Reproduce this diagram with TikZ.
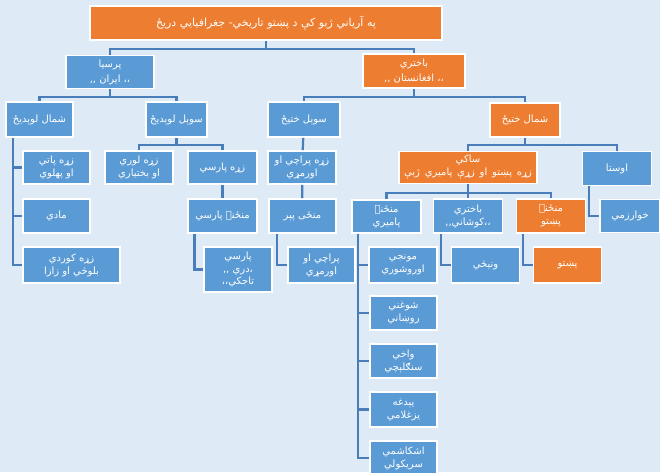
\documentclass[tikz,border=0pt]{standalone}
\usepackage{fontspec}
\newfontfamily\arabicfont[Script=Arabic]{DejaVu Sans}
\TeXXeTstate=1
\definecolor{treeBg}{HTML}{DEEAF6}
\definecolor{treeBlue}{HTML}{5B9BD5}
\definecolor{treeOrange}{HTML}{ED7D31}
\definecolor{treeLine}{HTML}{4A7EBB}
\newcommand{\rl}[1]{\beginR #1\endR}

\begin{document}
\begin{tikzpicture}[x=1pt, y=-1pt,
    bluebox/.style={draw=white, line width=1.6pt, fill=treeBlue, text=white, align=center, inner sep=1pt,
      font=\arabicfont\fontsize{10}{13}\selectfont, minimum width=68pt, minimum height=34pt},
    orangebox/.style={bluebox, fill=treeOrange},
    link/.style={draw=treeLine, line width=2.2pt}]

  \fill[treeBg] (0,0) rectangle (660,472);
  \useasboundingbox (0,0) rectangle (660,472);

  % top levels
  \node[orangebox, minimum width=352pt, font=\arabicfont\fontsize{11}{13}\selectfont] (title) at (266,23)
    {\rl{په آرياني ژبو کې د پښتو تاريخي\kern0pt- جغرافيايي دريځ}};
  \node[bluebox, minimum width=88pt, minimum height=33pt]   (persia)  at (110,72)  {\rl{پرسيا}\\[2pt]\rl{،، ايران ,,}};
  \node[orangebox, minimum width=102pt] (bactria) at (414,71)  {\rl{باختري}\\[2pt]\rl{،، افغانستان ,,}};
  \node[bluebox, minimum width=67pt, minimum height=35pt]   (nw) at (39.5,119.5) {\rl{شمال لوېديځ}};
  \node[bluebox, minimum width=61pt, minimum height=35pt]   (sw) at (176.5,119.5) {\rl{سوېل لوېديځ}};
  \node[bluebox, minimum width=72pt, minimum height=35pt]   (se) at (304,119.5) {\rl{سوېل ختيځ}};
  \node[orangebox, minimum width=70pt] (ne) at (525,120) {\rl{شمال ختيځ}};

  % north-west
  \node[bluebox, minimum width=67pt, minimum height=33pt] (parth)  at (56.5,167.5) {\rl{زړه پاتي}\\\rl{او پهلوي}};
  \node[bluebox, minimum width=67pt] (median) at (56.5,216) {\rl{مادي}};
  \node[bluebox, minimum width=97pt, minimum height=36pt] (kurd) at (71.5,265) {\rl{زړه کوردي}\\\rl{بلوڅي او زازا}};

  % south-west
  \node[bluebox, minimum height=33pt] (lori)    at (139,167.5) {\rl{زړه لوري}\\\rl{او بختياري}};
  \node[bluebox, minimum width=69pt, minimum height=33pt] (oldpers) at (222.5,167.5) {\rl{زړه پارسي}};
  \node[bluebox, minimum width=69pt] (midpers) at (222.5,216) {\rl{منځنۍ پارسي}};
  \node[bluebox, minimum height=45pt, font=\arabicfont\fontsize{10}{12.5}\selectfont] (pers) at (238,269.5)
    {\rl{پارسي}\\\rl{،\kern0pt دري ,,}\\\rl{تاجکي\kern0pt،،}};

  % south-east
  \node[bluebox, minimum height=33pt] (oldpar) at (302,167.5) {\rl{زړه پراچي او}\\\rl{اورمړي}};
  \node[bluebox, minimum width=67pt] (midage) at (302.5,216) {\rl{منځی پېر}};
  \node[bluebox, minimum width=67pt, minimum height=36pt] (par) at (321.5,265) {\rl{پراچي او}\\\rl{اورمړي}};

  % north-east
  \node[orangebox, minimum width=138pt, minimum height=32pt] (saka) at (468,167.5)
    {\rl{ساکي}\\\hbox to 128pt{\beginR زړه\hfil پښتو\hfil او\hfil زړې\hfil پاميري\hfil ژبې\endR}};
  \node[bluebox, minimum width=69pt] (avesta) at (617,168.5) {\rl{اوستا}};
  \node[bluebox, minimum width=60pt, minimum height=33pt] (khwar) at (630,216) {\rl{خوارزمي}};
  \node[bluebox, minimum width=69pt, minimum height=33pt] (midpam) at (386.5,216.5) {\rl{منځنۍ}\\\rl{پاميري}};
  \node[bluebox, minimum width=69pt] (kushan) at (468,216) {\rl{باختري}\\\rl{،،\kern0pt کوشاني\kern0pt,,}};
  \node[orangebox, minimum width=69pt] (midpash) at (551,216) {\rl{منځنۍ}\\\rl{پښتو}};
  \node[bluebox, minimum height=36pt] (wanetsi) at (485.5,265) {\rl{ونېڅي}};
  \node[orangebox, minimum height=36pt] (pashto) at (567.5,265) {\rl{پښتو}};

  % pamir languages
  \node[bluebox, minimum height=36pt] (munji)   at (403,265)   {\rl{مونجي}\\\rl{اوروشوري}};
  \node[bluebox, minimum width=67pt] (shughni) at (403.5,313) {\rl{شوغني}\\\rl{روښاني}};
  \node[bluebox, minimum width=67pt] (wakhi)   at (403.5,361) {\rl{واخي}\\\rl{سنګلېچي}};
  \node[bluebox, minimum width=67pt, minimum height=35pt] (yidgha) at (403.5,409.5) {\rl{يېدغه}\\\rl{يزغلامي}};
  \node[bluebox, minimum width=67pt] (ishk) at (403.5,458) {\rl{اشکاشمي}\\\rl{سريکولي}};

  % buses
  \draw[link] (title.south) -- ++(0,8) -| (persia.north);
  \draw[link] (title.south) -- ++(0,8) -| (bactria.north);
  \draw[link] (persia.south) -- ++(0,8) -| (nw.north);
  \draw[link] (persia.south) -- ++(0,8) -| (sw.north);
  \draw[link] (bactria.south) -- ++(0,8) -| (se.north);
  \draw[link] (bactria.south) -- ++(0,8) -| (ne.north);
  \draw[link] (sw.south) -- ++(0,7) -| (lori.north);
  \draw[link] (sw.south) -- ++(0,7) -| (oldpers.north);
  \draw[link] (ne.south) -- ++(0,7) -| (saka.north);
  \draw[link] (ne.south) -- ++(0,7) -| (avesta.north);
  \foreach \c in {midpam,kushan,midpash} {
    \draw[link] (saka.south) -- ++(0,8.5) -| (\c.north);
  }
  \draw[link] (oldpers) -- (midpers);
  \draw[link] (se) -- (oldpar);
  \draw[link] (oldpar) -- (midage);

  % side trunks
  \foreach \c in {parth,median,kurd} {
    \draw[link] ([xshift=-26.5pt]nw.south) |- (\c.west);
  }
  \draw[link] ([xshift=-28pt]midpers.south) |- (pers.west);
  \draw[link] ([xshift=-25.5pt]midage.south) |- (par.west);
  \foreach \c in {munji,shughni,wakhi,yidgha,ishk} {
    \draw[link] ([xshift=-28.5pt]midpam.south) |- (\c.west);
  }
  \draw[link] ([xshift=-27pt]kushan.south) |- (wanetsi.west);
  \draw[link] ([xshift=-28pt]midpash.south) |- (pashto.west);
  \draw[link] ([xshift=-28pt]avesta.south) |- (khwar.west);
\end{tikzpicture}
\end{document}
